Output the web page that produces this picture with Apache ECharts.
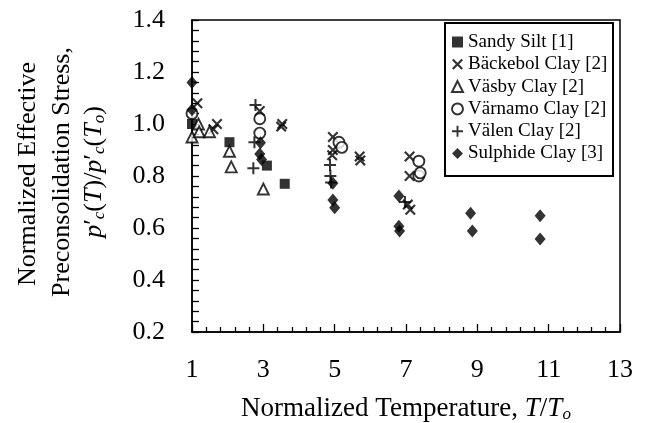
<!DOCTYPE html>
<html><head><meta charset="utf-8">
<script src="https://cdn.jsdelivr.net/npm/echarts@6/dist/echarts.min.js"></script>
<style>html,body{margin:0;padding:0;background:#fff}#c{width:645px;height:423px}</style>
</head><body><div id="c"></div>
<script>
const FONT = 'Liberation Serif';

const seriesNames = ['Sandy Silt [1]', 'Bäckebol Clay [2]', 'Väsby Clay [2]', 'Värnamo Clay [2]', 'Välen Clay [2]', 'Sulphide Clay [3]'];

const sandySilt = [[1.0, 1.0], [2.05, 0.93], [3.1, 0.84], [3.6, 0.77]];
const backebol = [[1.15, 1.08], [1.6, 0.98], [1.7, 1.0], [2.9, 1.05], [3.5, 0.99], [3.53, 1.0],
  [4.95, 0.95], [4.95, 0.90], [4.93, 0.88], [5.7, 0.875], [5.72, 0.86],
  [7.1, 0.875], [7.1, 0.80], [7.05, 0.69], [7.12, 0.67]];
const vasby = [[1.0, 0.95], [1.18, 1.0], [1.2, 0.97], [1.49, 0.97], [2.05, 0.895], [2.1, 0.835], [3.0, 0.75]];
const varnamo = [[1.0, 1.04], [2.9, 1.02], [2.9, 0.965], [5.12, 0.93], [5.2, 0.91], [7.36, 0.857], [7.36, 0.80], [7.4, 0.812]];
const valen = [[2.78, 1.073], [2.75, 0.93], [2.72, 0.83], [4.87, 0.842], [4.88, 0.80], [4.9, 0.775], [6.97, 0.70]];
const sulphide = [[1.0, 1.16], [1.0, 1.055], [2.92, 0.928], [2.9, 0.885], [2.95, 0.863],
  [4.95, 0.772], [4.95, 0.708], [5.0, 0.678], [6.8, 0.723], [6.8, 0.607], [6.82, 0.588],
  [8.81, 0.657], [8.86, 0.588], [10.76, 0.647], [10.76, 0.558]];

const xTickLabels = ['1', '3', '5', '7', '9', '11', '13'];
const yTickLabels = ['0.2', '0.4', '0.6', '0.8', '1.0', '1.2', '1.4'];

const X_PATH = 'path://M0,1.4L1.4,0L5,3.6L8.6,0L10,1.4L6.4,5L10,8.6L8.6,10L5,6.4L1.4,10L0,8.6L3.6,5Z';
const PLUS_PATH = 'path://M4.15,0H5.85V4.15H10V5.85H5.85V10H4.15V5.85H0V4.15H4.15Z';

const filled = { color: '#000' };
const hollow = { color: '#fff', borderColor: '#000', borderWidth: 1.9 };

function sc(name, data, symbol, size, style) {
  return {
    type: 'scatter', name: name, data: data, symbol: symbol, symbolSize: size,
    itemStyle: style, emphasis: { disabled: true }, silent: true
  };
}

const chart = echarts.init(document.getElementById('c'), null, { renderer: 'canvas' });

const sub = { fontFamily: FONT, fontSize: 17, fontStyle: 'italic', color: '#000', padding: [11, 0, 0, 0] };
const it = { fontFamily: FONT, fontSize: 26, fontStyle: 'italic', color: '#000' };
const nrm = { fontFamily: FONT, fontSize: 26, color: '#000' };

chart.setOption({
  animation: false,
  backgroundColor: '#fff',
  textStyle: { fontFamily: FONT },
  grid: { left: 192, top: 20, right: 25, bottom: 91, show: true, borderColor: '#000', borderWidth: 1.5,
    containLabel: false, outerBoundsMode: 'none' },
  xAxis: {
    type: 'value', min: 1, max: 13, interval: 2,
    axisLine: { lineStyle: { color: '#000', width: 1.5 } },
    axisTick: { inside: true, length: 8, lineStyle: { color: '#000', width: 1.3 } },
    minorTick: { show: true, splitNumber: 5, length: 5, lineStyle: { color: '#000', width: 1.3 } },
    splitLine: { show: false },
    axisLabel: { fontFamily: FONT, fontSize: 26, color: '#000', margin: 25,
      formatter: (v, i) => xTickLabels[i] },
    name: 'Normalized Temperature, {it|T}/{it|T}{sub|o}',
    nameLocation: 'middle', nameGap: 63,
    nameTextStyle: { fontFamily: FONT, fontSize: 27, color: '#000',
      rich: { it: Object.assign({}, it, { fontSize: 27 }), sub: sub } }
  },
  yAxis: {
    type: 'value', min: 0.2, max: 1.4, interval: 0.2,
    axisLine: { lineStyle: { color: '#000', width: 1.5 } },
    axisTick: { inside: true, length: 7, lineStyle: { color: '#000', width: 1.3 } },
    minorTick: { show: true, splitNumber: 5, length: 7, lineStyle: { color: '#000', width: 1.3 } },
    splitLine: { show: false },
    axisLabel: { fontFamily: FONT, fontSize: 26, color: '#000', margin: 27,
      formatter: (v, i) => yTickLabels[i] }
  },
  legend: {
    orient: 'vertical', left: 451, top: 32, padding: 0, itemGap: 2.3,
    itemWidth: 11, itemHeight: 11, z: 5,
    textStyle: { fontFamily: FONT, fontSize: 19, color: '#000', lineHeight: 20 },
    data: seriesNames
  },
  graphic: [
    { type: 'rect', z: 4, shape: { x: 445, y: 23, width: 168, height: 153 },
      style: { fill: 'none', stroke: '#000', lineWidth: 2 } },
    { type: 'text', x: 28, y: 174, rotation: Math.PI / 2,
      style: { text: 'Normalized Effective', fontFamily: FONT, fontSize: 26, fill: '#000', align: 'center', verticalAlign: 'middle' } },
    { type: 'text', x: 62, y: 172, rotation: Math.PI / 2,
      style: { text: 'Preconsolidation Stress,', fontFamily: FONT, fontSize: 26, fill: '#000', align: 'center', verticalAlign: 'middle' } },
    { type: 'text', x: 94, y: 172, rotation: Math.PI / 2,
      style: {
        text: '{it|p}{n|′}{sub|c}{n|(}{it|T}{n|)/}{it|p}{n|′}{sub|c}{n|(}{it|T}{sub|o}{n|)}',
        fontFamily: FONT, fontSize: 26, fill: '#000', align: 'center', verticalAlign: 'middle',
        rich: { it: it, n: nrm, sub: sub }
      } }
  ],
  series: [
    sc(seriesNames[0], sandySilt, 'rect', 10, filled),
    sc(seriesNames[1], backebol, X_PATH, 11, filled),
    sc(seriesNames[2], vasby, 'triangle', 11, hollow),
    sc(seriesNames[3], varnamo, 'circle', 11, hollow),
    sc(seriesNames[4], valen, PLUS_PATH, 12, filled),
    sc(seriesNames[5], sulphide, 'diamond', [11, 13], filled)
  ]
});
</script></body></html>
